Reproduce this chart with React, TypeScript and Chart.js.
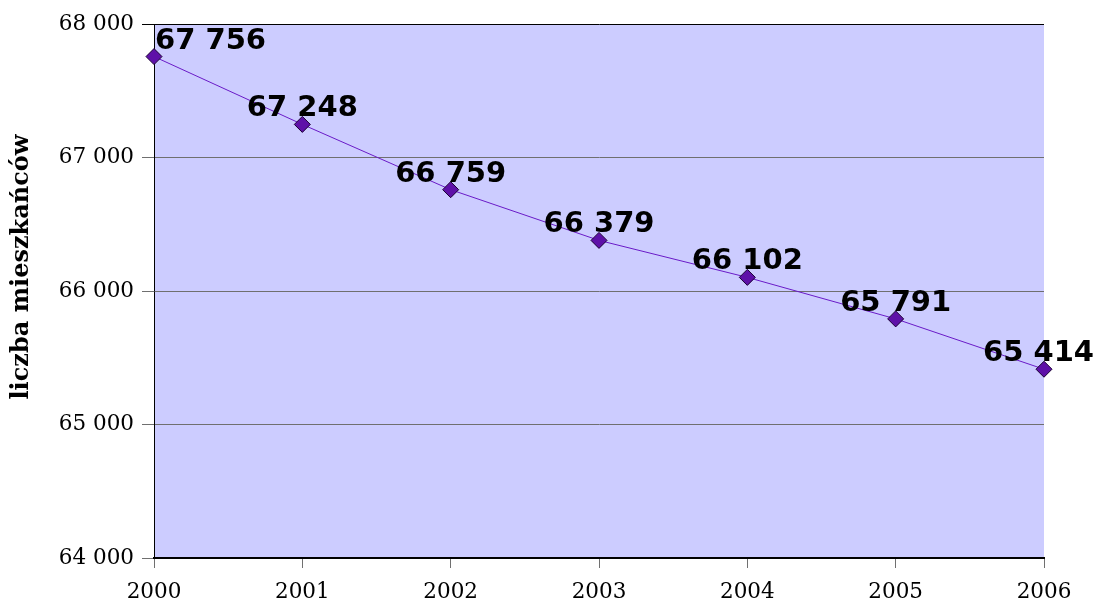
import React, { useEffect, useRef } from "react";
import { Chart, registerables } from "chart.js";

Chart.register(...registerables);

const years = ["2000", "2001", "2002", "2003", "2004", "2005", "2006"];
const population = [67756, 67248, 66759, 66379, 66102, 65791, 65414];
const yMin = 64000;
const yMax = 68000;
const yStep = 1000;
const yTitle = "liczba mieszkańców";

const fmt = (v: number) => {
  const s = Math.round(v).toString();
  return s.replace(/\B(?=(\d{3})+(?!\d))/g, " ");
};

const bgPlugin = {
  id: "plotBg",
  beforeDraw(chart: any) {
    const { ctx, chartArea } = chart;
    ctx.save();
    ctx.fillStyle = "#CCCCFF";
    ctx.fillRect(chartArea.left, chartArea.top, chartArea.right - chartArea.left, chartArea.bottom - chartArea.top);
    ctx.restore();
  },
};

const titlePlugin = {
  id: "yTitle",
  afterDraw(chart: any) {
    const { ctx } = chart;
    ctx.save();
    ctx.translate(22, 267);
    ctx.rotate(-Math.PI / 2);
    ctx.font = "bold 24px 'DejaVu Serif'";
    ctx.fillStyle = "#000000";
    ctx.textAlign = "center";
    ctx.textBaseline = "middle";
    ctx.fillText(yTitle, 0, 0);
    ctx.restore();
  },
};

const labelPlugin = {
  id: "valueLabels",
  afterDatasetsDraw(chart: any) {
    const { ctx, chartArea, width } = chart;
    const meta = chart.getDatasetMeta(0);
    const data = chart.data.datasets[0].data as number[];
    ctx.save();
    ctx.font = "bold 29px 'DejaVu Sans'";
    ctx.fillStyle = "#000000";
    ctx.textBaseline = "alphabetic";
    ctx.textAlign = "left";
    meta.data.forEach((pt: any, i: number) => {
      const txt = fmt(data[i]);
      const w = ctx.measureText(txt).width;
      let left = pt.x - w / 2;
      if (left < chartArea.left + 1) left = chartArea.left + 1;
      if (left + w > width - 3) left = width - 3 - w;
      ctx.fillText(txt, left, pt.y - 8);
    });
    ctx.restore();
  },
};

export default function App() {
  const ref = useRef<HTMLCanvasElement | null>(null);
  useEffect(() => {
    document.body.style.margin = "0";
    const canvas = ref.current!;
    const chart = new Chart(canvas, {
      type: "line",
      data: {
        labels: years,
        datasets: [
          {
            data: population,
            borderColor: "#6A1BC8",
            borderWidth: 1,
            pointStyle: "rectRot",
            pointRadius: 8,
            pointHoverRadius: 8,
            pointBackgroundColor: "#5E10A8",
            pointBorderColor: "#1a0033",
            pointBorderWidth: 1,
            tension: 0,
            clip: false as any,
          },
        ],
      },
      options: {
        responsive: false,
        animation: false,
        layout: { padding: { top: 24, right: 53, left: 0, bottom: 0 } },
        plugins: {
          legend: { display: false },
          tooltip: { enabled: false },
        },
        scales: {
          x: {
            type: "category",
            offset: false,
            grid: {
              drawOnChartArea: false,
              drawTicks: true,
              tickLength: 10,
              color: "#707070",
            },
            border: { display: true, color: "#000000", width: 2 },
            ticks: {
              color: "#000000",
              font: { family: "'DejaVu Serif'", size: 21.5 },
              padding: 12,
              maxRotation: 0,
            },
            afterFit(scale: any) {
              scale.height = 46;
            },
          },
          y: {
            min: yMin,
            max: yMax,
            ticks: {
              stepSize: yStep,
              color: "#000000",
              font: { family: "'DejaVu Serif'", size: 21.5 },
              padding: 8,
              callback: (v: any) => fmt(Number(v)),
            },
            grid: {
              color: (c: any) => (c.tick && c.tick.value === yMax ? "#000000" : "#6f6f6f"),
              lineWidth: 1,
              tickLength: 12,
            },
            border: { display: true, color: "#000000", width: 1 },
            afterFit(scale: any) {
              scale.width = 154;
            },
          },
        },
      },
      plugins: [bgPlugin, labelPlugin, titlePlugin],
    });
    return () => chart.destroy();
  }, []);
  return <canvas ref={ref} width={1097} height={604} style={{ display: "block" }} />;
}
